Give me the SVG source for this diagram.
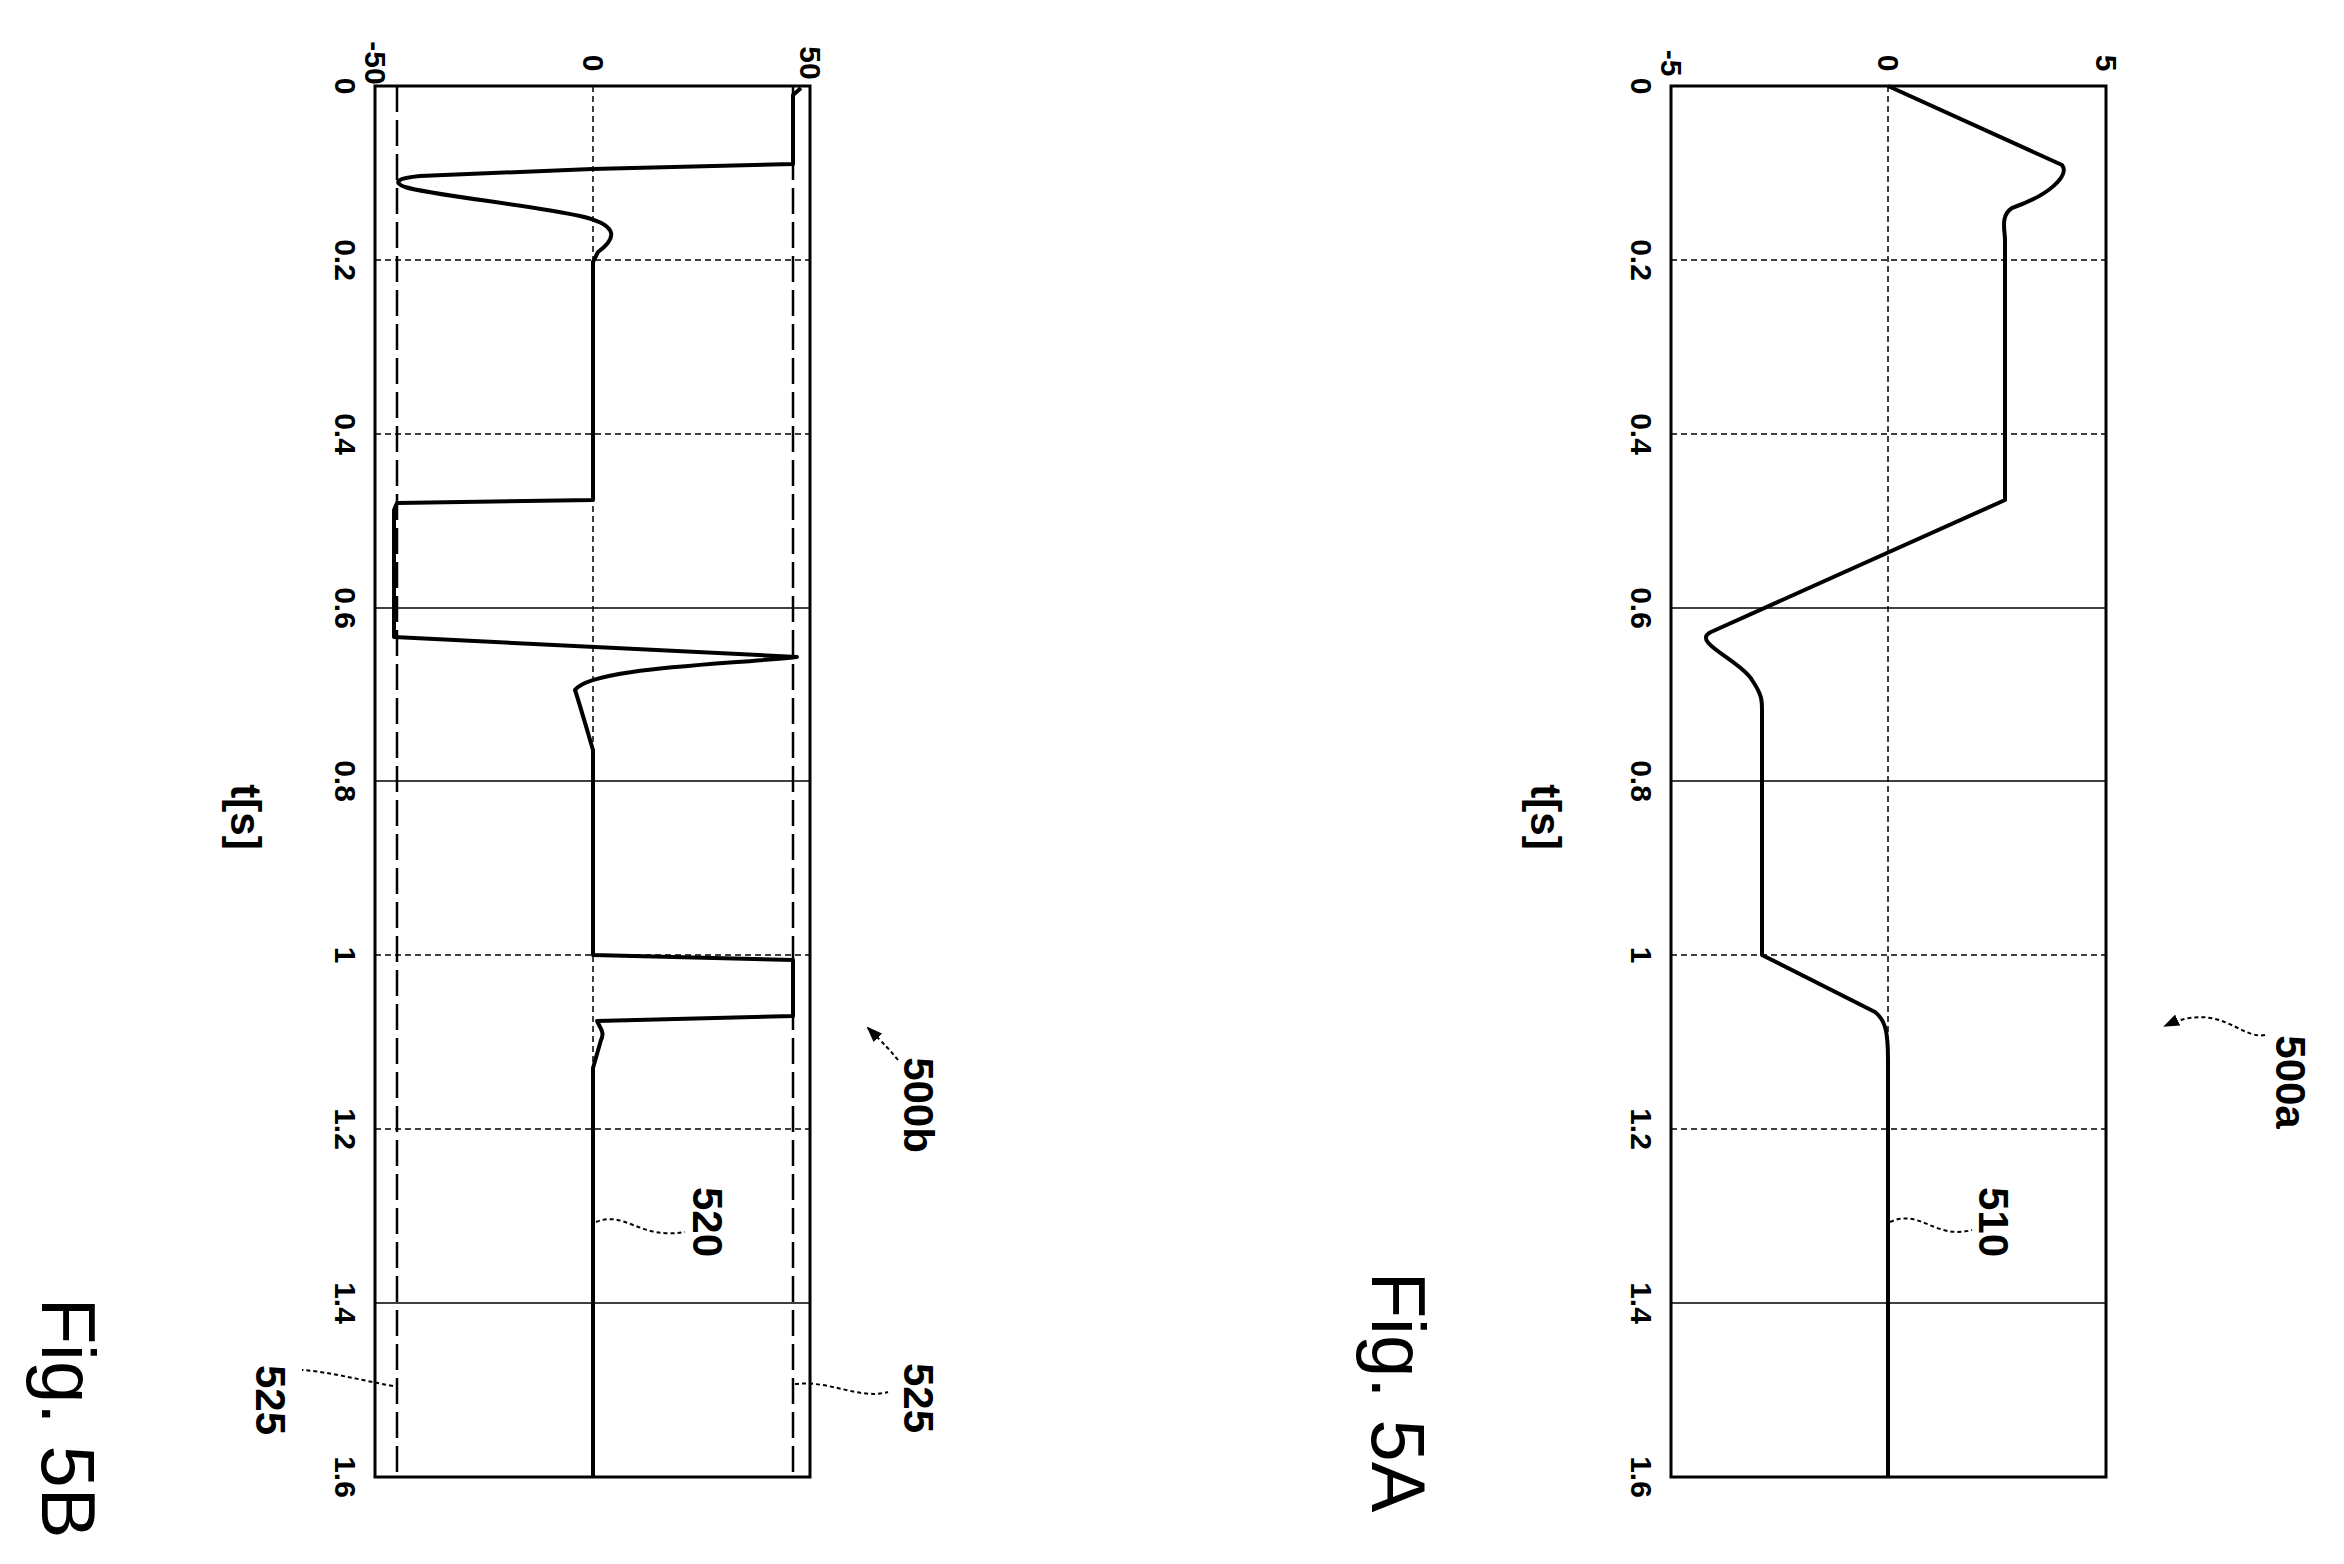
<svg xmlns="http://www.w3.org/2000/svg" width="2344" height="1564" viewBox="0 0 2344 1564">
<style>
text{font-family:"Liberation Sans",Arial,sans-serif;fill:#000;text-anchor:middle}
.tk{font-size:30px;font-weight:bold}
.ref{font-size:42px;font-weight:bold}
.fig{font-size:76px}
.box{fill:none;stroke:#000;stroke-width:3}
.gd{stroke:#000;stroke-width:1.5;stroke-dasharray:6 4;fill:none}
.gs{stroke:#000;stroke-width:1.5;fill:none}
.curve{fill:none;stroke:#000;stroke-width:4;stroke-linejoin:round}
.lead{fill:none;stroke:#000;stroke-width:2;stroke-dasharray:4 3}
.lim{stroke:#000;stroke-width:2.5;stroke-dasharray:26 8;fill:none}
</style>
<defs><marker id="ah" markerWidth="8" markerHeight="6" refX="7" refY="3" orient="auto" markerUnits="strokeWidth"><path d="M0,0 L8,3 L0,6 z" fill="#000"/></marker></defs>
<g id="fig5b">
<rect class="box" x="375" y="86" width="435" height="1391"/>
<path class="gd" d="M375,260H810M375,434H810M375,955H810M375,1129H810M593,86V1477"/>
<path class="gs" d="M375,608H810M375,781H810M375,1303H810"/>
<path class="lim" d="M397,86V1477M793,86V1477"/>
<path class="curve" d="M801,88 L793,95 L793,164 L592,169 L420,176 C398,178 392,182 405,187 C430,195 530,205 580,216 C615,224 620,236 598,252 L593,262 L593,500 L397,503 L394,510 L394,637 L797,657 C720,665 590,668 575,690 C580,705 590,740 593,750 L593,955 L793,960 L793,1016 L597,1021 C600,1028 605,1032 601,1040 L593,1068 L593,1477"/>
<g class="tk">
<text transform="translate(375,63) rotate(90)" dy="10">-50</text>
<text transform="translate(593,63) rotate(90)" dy="10">0</text>
<text transform="translate(810,63) rotate(90)" dy="10">50</text>
<text transform="translate(345,86) rotate(90)" dy="10">0</text>
<text transform="translate(345,260) rotate(90)" dy="10">0.2</text>
<text transform="translate(345,434) rotate(90)" dy="10">0.4</text>
<text transform="translate(345,608) rotate(90)" dy="10">0.6</text>
<text transform="translate(345,781) rotate(90)" dy="10">0.8</text>
<text transform="translate(345,955) rotate(90)" dy="10">1</text>
<text transform="translate(345,1129) rotate(90)" dy="10">1.2</text>
<text transform="translate(345,1303) rotate(90)" dy="10">1.4</text>
<text transform="translate(345,1477) rotate(90)" dy="10">1.6</text>
</g>
<text class="ref" transform="translate(245,817) rotate(90)" dy="14">t[s]</text>
<text class="fig" transform="translate(68,1418) rotate(90)" dy="26">Fig. 5B</text>
</g>
<g id="fig5a">
<rect class="box" x="1671" y="86" width="435" height="1391"/>
<path class="gd" d="M1671,260H2106M1671,434H2106M1671,955H2106M1671,1129H2106M1888,86V1477"/>
<path class="gs" d="M1671,608H2106M1671,781H2106M1671,1303H2106"/>
<path class="curve" d="M1888,86 L2062,165 C2070,175 2050,195 2012,208 C2000,216 2005,230 2005,240 L2005,500 L1711,632 C1690,642 1740,660 1752,680 C1762,695 1762,700 1762,710 L1762,955 L1875,1012 C1885,1020 1888,1030 1888,1060 L1888,1477"/>
<g class="tk">
<text transform="translate(1671,63) rotate(90)" dy="10">-5</text>
<text transform="translate(1888,63) rotate(90)" dy="10">0</text>
<text transform="translate(2106,63) rotate(90)" dy="10">5</text>
<text transform="translate(1641,86) rotate(90)" dy="10">0</text>
<text transform="translate(1641,260) rotate(90)" dy="10">0.2</text>
<text transform="translate(1641,434) rotate(90)" dy="10">0.4</text>
<text transform="translate(1641,608) rotate(90)" dy="10">0.6</text>
<text transform="translate(1641,781) rotate(90)" dy="10">0.8</text>
<text transform="translate(1641,955) rotate(90)" dy="10">1</text>
<text transform="translate(1641,1129) rotate(90)" dy="10">1.2</text>
<text transform="translate(1641,1303) rotate(90)" dy="10">1.4</text>
<text transform="translate(1641,1477) rotate(90)" dy="10">1.6</text>
</g>
<text class="ref" transform="translate(1545,817) rotate(90)" dy="14">t[s]</text>
<text class="fig" transform="translate(1398,1392) rotate(90)" dy="26">Fig. 5A</text>
</g>
<g id="labels">
<text class="ref" transform="translate(707,1222) rotate(90)" dy="14">520</text>
<text class="ref" transform="translate(1993,1222) rotate(90)" dy="14">510</text>
<text class="ref" transform="translate(270,1400) rotate(90)" dy="14">525</text>
<text class="ref" transform="translate(918,1398) rotate(90)" dy="14">525</text>
<text class="ref" transform="translate(918,1105) rotate(90)" dy="14">500b</text>
<text class="ref" transform="translate(2290,1082) rotate(90)" dy="14">500a</text>
</g>
<g id="connectors">
<path class="lead" d="M596,1222 C625,1210 640,1240 685,1232"/>
<path class="lead" d="M1890,1222 C1920,1208 1935,1240 1972,1230"/>
<path class="lead" d="M393,1386 C360,1380 330,1372 302,1370"/>
<path class="lead" d="M795,1384 C830,1380 860,1400 888,1392"/>
<path class="lead" d="M898,1060 C890,1050 885,1045 868,1028" marker-end="url(#ah)"/>
<path class="lead" d="M2265,1035 C2240,1040 2220,1000 2165,1026" marker-end="url(#ah)"/>
</g>
</svg>
